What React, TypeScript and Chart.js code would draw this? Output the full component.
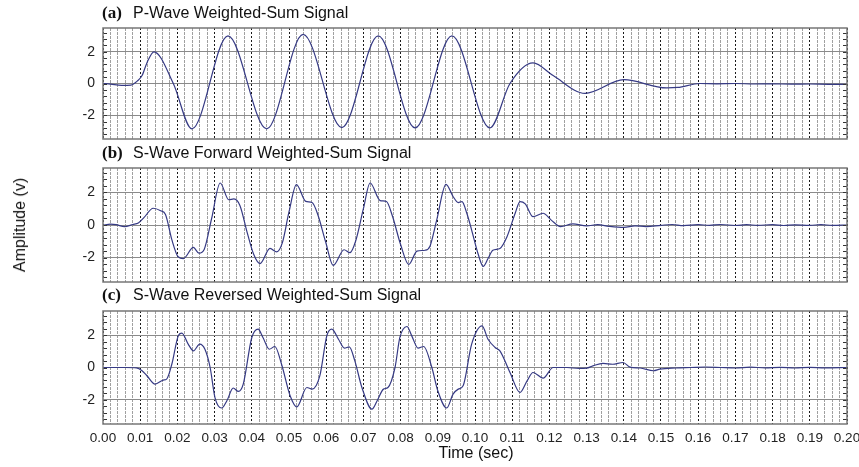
import React, { useEffect, useRef } from 'react';
import { Chart, registerables } from 'chart.js';

Chart.register(...registerables);

// ---------- data ----------
const xTickLabels = ['0.00', '0.01', '0.02', '0.03', '0.04', '0.05', '0.06', '0.07', '0.08', '0.09', '0.10',
  '0.11', '0.12', '0.13', '0.14', '0.15', '0.16', '0.17', '0.18', '0.19', '0.20'];
const yTickValues = [-2, 0, 2];
const yTickLabels = ['-2', '0', '2'];
const panelLetters = ['(a)', '(b)', '(c)'];
const panelTitles = ['P-Wave Weighted-Sum Signal', 'S-Wave Forward Weighted-Sum Signal', 'S-Wave Reversed Weighted-Sum Signal'];
const xAxisTitle = 'Time (sec)';
const yAxisTitle = 'Amplitude (v)';

// (a) P-wave
const aTime = [0, 0.002, 0.005, 0.0075, 0.0092, 0.0105, 0.0118, 0.0137, 0.0189, 0.0239, 0.0336, 0.044, 0.0538,
  0.0642, 0.074, 0.0839, 0.0938, 0.104, 0.1094, 0.1156, 0.121, 0.1296, 0.14, 0.1515, 0.1545, 0.1605, 0.165,
  0.17, 0.175, 0.18, 0.185, 0.19, 0.195, 0.2];
const aAmp = [0, -0.04, -0.12, -0.1, 0.15, 0.5, 1.3, 2.0, 0.0, -2.86, 3.0, -2.86, 3.1,
  -2.78, 3.0, -2.8, 3.0, -2.8, 0.0, 1.3, 0.5, -0.62, 0.24, -0.28, -0.25, 0.0, -0.02,
  0.0, -0.03, -0.02, -0.04, -0.03, -0.05, -0.05];

// (b) S-wave forward
const bTime = [0, 0.002, 0.0035, 0.0058, 0.008, 0.0095, 0.011, 0.0135, 0.0155, 0.0168, 0.0185, 0.0202, 0.0216,
  0.0243, 0.0258, 0.0272, 0.0292, 0.0315, 0.0338, 0.0352, 0.0368, 0.0388, 0.0405, 0.0422, 0.0449, 0.0467,
  0.0482, 0.05, 0.052, 0.0545, 0.0562, 0.0578, 0.0598, 0.0619, 0.0648, 0.0664, 0.0679, 0.07, 0.0718,
  0.0745, 0.0762, 0.0778, 0.08, 0.0822, 0.0844, 0.0866, 0.0879, 0.0897, 0.0922, 0.0941, 0.0955, 0.0965,
  0.0978, 0.0991, 0.1008, 0.1022, 0.1035, 0.1048, 0.1067, 0.1086, 0.1108, 0.1121, 0.1135, 0.1156, 0.1183,
  0.1205, 0.123, 0.1263, 0.13, 0.133, 0.136, 0.14, 0.143, 0.146, 0.15, 0.153, 0.156, 0.16, 0.163, 0.166,
  0.17, 0.173, 0.176, 0.18, 0.183, 0.186, 0.19, 0.193, 0.196, 0.2];
const bAmp = [-0.03, 0.05, 0.02, -0.1, 0.03, 0.12, 0.45, 1.03, 0.88, 0.65, -0.9, -1.95, -2.06,
  -1.38, -1.73, -1.5, 0.4, 2.58, 1.55, 1.6, 1.2, -0.5, -1.8, -2.37, -1.44, -1.65,
  -1.1, 0.8, 2.48, 1.45, 1.38, 0.6, -1.0, -2.48, -1.52, -1.7, -1.0, 1.0, 2.58,
  1.5, 1.44, 0.55, -1.2, -2.42, -1.6, -1.55, -1.3, 0.3, 2.5, 1.75, 1.38, 1.44,
  0.72, -0.31, -1.75, -2.54, -2.06, -1.55, -1.44, -0.72, 0.72, 1.44, 1.3, 0.51, 0.72,
  0.3, -0.1, 0.07, -0.05, 0.02, -0.08, -0.15, -0.05, -0.1, -0.02, 0.03, -0.04, 0.02, -0.02, 0.03,
  -0.03, 0.02, -0.02, 0.02, -0.03, 0.01, -0.02, 0.02, -0.02, 0.0];

// (c) S-wave reversed
const cTime = [0, 0.003, 0.006, 0.009, 0.0105, 0.0118, 0.014, 0.0162, 0.0171, 0.0185, 0.0203, 0.0212, 0.0229,
  0.0243, 0.026, 0.0274, 0.0288, 0.0301, 0.0319, 0.0333, 0.035, 0.0364, 0.0377, 0.04, 0.0417, 0.043,
  0.0447, 0.0462, 0.048, 0.0503, 0.0521, 0.0548, 0.0562, 0.0583, 0.0602, 0.0615, 0.0633, 0.0649, 0.0662,
  0.0677, 0.0696, 0.0723, 0.0737, 0.0754, 0.0766, 0.0785, 0.0798, 0.0817, 0.083, 0.0847, 0.0862, 0.0884,
  0.09, 0.0924, 0.0941, 0.0955, 0.0968, 0.0991, 0.1019, 0.1035, 0.1054, 0.1067, 0.1094, 0.1121, 0.114,
  0.1156, 0.1183, 0.121, 0.1247, 0.128, 0.13, 0.1317, 0.1344, 0.137, 0.1398, 0.1417, 0.1444, 0.148,
  0.1497, 0.154, 0.158, 0.162, 0.166, 0.17, 0.174, 0.178, 0.182, 0.186, 0.19, 0.194, 0.2];
const cAmp = [0, 0.0, 0.0, -0.02, -0.2, -0.51, -1.03, -0.78, -0.72, 0.2, 2.0, 2.13, 1.45,
  1.03, 1.45, 1.13, 0.0, -1.86, -2.51, -2.06, -1.27, -1.48, -1.03, 1.86, 2.38, 1.86,
  1.13, 1.3, 0.2, -1.75, -2.44, -1.24, -1.34, -0.5, 2.0, 2.38, 1.75, 1.2, 1.28,
  0.41, -1.24, -2.58, -2.06, -1.34, -1.24, 0.0, 1.86, 2.54, 1.96, 1.2, 1.3, 0.0,
  -1.44, -2.51, -1.65, -1.34, -1.13, 1.45, 2.58, 1.75, 1.24, 1.03, -0.31, -1.55, -0.83,
  -0.31, -0.66, 0.0, 0.0, -0.06, -0.04, 0.1, 0.26, 0.2, 0.31, 0.02, -0.03, -0.2,
  -0.1, -0.03, 0.0, 0.03, 0.0, -0.03, 0.02, -0.02, 0.01, -0.03, 0.01, -0.02, 0.0];

// ---------- style ----------
const FONT = "'Liberation Sans', Arial, sans-serif";
const SERIF = "'Liberation Serif', 'Times New Roman', serif";
const LINE_COLOR = '#363a84';
const X_MIN = 0;
const X_MAX = 0.2;
const MINOR_STEP = 0.002;
const MINOR_COUNT = 100;
const Y_MIN = -3.5;
const Y_MAX = 3.5;
const Y_MINOR = 0.4;

const framePlugin = {
  id: 'frame',
  afterDatasetsDraw(chart: any) {
    const { ctx, chartArea, scales } = chart;
    const { left, right, top, bottom } = chartArea;
    const y = scales.y;
    ctx.save();
    ctx.beginPath();
    ctx.strokeStyle = '#333';
    ctx.lineWidth = 1;
    for (let k = -8; k <= 8; k++) {
      const v = k * Y_MINOR;
      if (v < Y_MIN || v > Y_MAX) continue;
      const py = Math.round(y.getPixelForValue(v)) + 0.5;
      ctx.moveTo(left, py);
      ctx.lineTo(left + 4, py);
      ctx.moveTo(right - 4, py);
      ctx.lineTo(right, py);
    }
    ctx.stroke();
    ctx.strokeStyle = '#777';
    ctx.lineWidth = 1.5;
    ctx.strokeRect(left, top, right - left, bottom - top);
    ctx.restore();
  },
};

function makeConfig(time: number[], amp: number[], showX: boolean, padding: any, xHeight: number): any {
  return {
    type: 'line',
    data: {
      datasets: [{
        data: time.map((t, i) => ({ x: t, y: amp[i] })),
        borderColor: LINE_COLOR,
        borderWidth: 1.2,
        pointRadius: 0,
        cubicInterpolationMode: 'monotone',
        fill: false,
      }],
    },
    options: {
      animation: false,
      responsive: false,
      devicePixelRatio: 1,
      layout: { padding },
      plugins: { legend: { display: false }, tooltip: { enabled: false }, title: { display: false } },
      scales: {
        x: {
          type: 'linear',
          min: X_MIN,
          max: X_MAX,
          afterBuildTicks: (s: any) => {
            const t = [];
            for (let i = 0; i <= MINOR_COUNT; i++) t.push({ value: i * MINOR_STEP });
            s.ticks = t;
          },
          afterFit: (s: any) => {
            s.height = xHeight;
            s.paddingLeft = 0;
            s.paddingRight = 0;
          },
          grid: {
            color: (c: any) => (c.index % 5 === 0 ? '#1a1a1a' : '#a0a0a0'),
            lineWidth: 1,
            drawTicks: false,
          },
          border: {
            display: false,
            dash: (c: any) => (c.index % 5 === 0 ? [2, 2] : [3, 1]),
          },
          ticks: {
            display: showX,
            autoSkip: false,
            maxRotation: 0,
            padding: 6,
            color: '#222',
            font: { family: FONT, size: 13.5 },
            callback: (_v: any, i: number) => (i % 5 === 0 ? xTickLabels[i / 5] : ''),
          },
        },
        y: {
          min: Y_MIN,
          max: Y_MAX,
          afterBuildTicks: (s: any) => {
            s.ticks = yTickValues.map((v) => ({ value: v }));
          },
          afterFit: (s: any) => {
            s.width = 103;
            s.paddingTop = 0;
            s.paddingBottom = 0;
          },
          grid: { color: '#8a8a8a', lineWidth: 1, drawTicks: false },
          border: { display: false },
          ticks: {
            color: '#222',
            padding: 8,
            font: { family: FONT, size: 14 },
            callback: (v: any) => yTickLabels[yTickValues.indexOf(v)],
          },
        },
      },
    },
    plugins: [framePlugin],
  };
}

function Panel(props: { time: number[]; amp: number[]; showX: boolean; top: number; height: number; padding: any; xHeight: number }) {
  const ref = useRef<HTMLCanvasElement>(null);
  useEffect(() => {
    const chart = new Chart(ref.current as HTMLCanvasElement, makeConfig(props.time, props.amp, props.showX, props.padding, props.xHeight));
    return () => chart.destroy();
  }, []);
  return (
    <canvas
      ref={ref}
      width={859}
      height={props.height}
      style={{ position: 'absolute', left: 0, top: props.top, width: 859, height: props.height }}
    />
  );
}

const titleTops = [4.5, 145, 287];

export default function App() {
  return (
    <div style={{ position: 'absolute', left: 0, top: 0, width: 859, height: 467, background: '#fff', overflow: 'hidden' }}>
      <Panel time={aTime} amp={aAmp} showX={false} top={20} height={130} padding={{ top: 8, bottom: 11, left: 0, right: 12 }} xHeight={0} />
      <Panel time={bTime} amp={bAmp} showX={false} top={160} height={130} padding={{ top: 8, bottom: 8, left: 0, right: 12 }} xHeight={0} />
      <Panel time={cTime} amp={cAmp} showX={true} top={303} height={150} padding={{ top: 8, bottom: 4, left: 0, right: 12 }} xHeight={25} />
      {panelTitles.map((t, i) => (
        <React.Fragment key={i}>
          <div style={{ position: 'absolute', left: 102, top: titleTops[i] - 1, font: `bold 17px ${SERIF}`, lineHeight: 1, color: '#111', whiteSpace: 'nowrap' }}>
            {panelLetters[i]}
          </div>
          <div style={{ position: 'absolute', left: 133, top: titleTops[i], font: `16px ${FONT}`, lineHeight: 1, color: '#111', whiteSpace: 'nowrap' }}>
            {t}
          </div>
        </React.Fragment>
      ))}
      <div style={{ position: 'absolute', left: 476, top: 445, transform: 'translateX(-50%)', font: `16px ${FONT}`, lineHeight: 1, color: '#111', whiteSpace: 'nowrap' }}>
        {xAxisTitle}
      </div>
      <div style={{ position: 'absolute', left: 20, top: 225, transform: 'translate(-50%, -50%) rotate(-90deg)', font: `16px ${FONT}`, lineHeight: 1, color: '#111', whiteSpace: 'nowrap' }}>
        {yAxisTitle}
      </div>
    </div>
  );
}
